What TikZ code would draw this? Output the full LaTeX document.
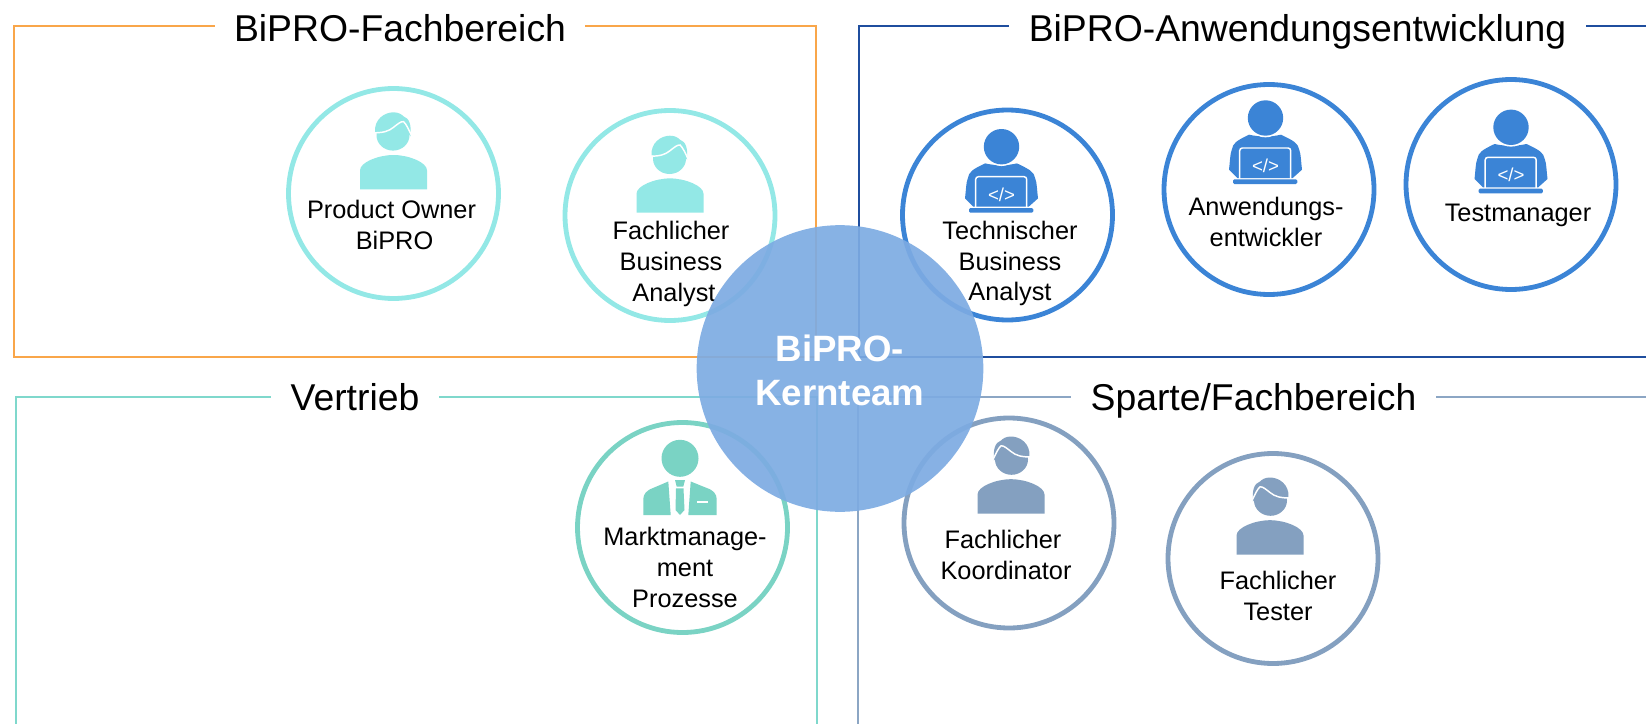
\documentclass[tikz,border=0pt]{standalone}
\usepackage{fontspec}
\usepackage{xcolor}
\setmainfont{Liberation Sans}
\definecolor{fachcol}{HTML}{93E8E6}
\definecolor{devcol}{HTML}{3B84D6}
\definecolor{salescol}{HTML}{7AD3C4}
\definecolor{spartecol}{HTML}{84A0C0}
\definecolor{fachline}{HTML}{F9A64A}
\definecolor{devline}{HTML}{1F4E9E}
\definecolor{salesline}{HTML}{7FD8CC}
\definecolor{sparteline}{HTML}{8CA6C4}
\definecolor{corecol}{HTML}{7DABE2}
\tikzset{
  title/.style={anchor=base, fill=white, inner xsep=14.5pt, inner ysep=0pt, font=\fontsize{28}{32}\selectfont},
  role/.style={circle, fill=white, line width=3.6pt, minimum size=157.5pt, inner sep=0pt},
  rolelabel/.style={align=center, font=\fontsize{19}{23}\selectfont},
  hairman/.pic={
    \fill (-33.5,0) -- (-33.5,-19) .. controls (-33.5,-27) and (-15,-34.3) .. (0,-34.3)
      .. controls (15,-34.3) and (33.5,-27) .. (33.5,-19) -- (33.5,0) -- cycle;
    \fill (-0.5,-54) ellipse (16.5 and 15.3);
    \fill (-18.5,-57) .. controls (-19.5,-70) and (-9,-77) .. (0,-77)
      .. controls (5,-77) and (8,-75) .. (10,-73)
      .. controls (16,-71) and (18,-64) .. (17,-53) -- (12,-60) -- cycle;
    \draw[white, line width=1.1pt] (-20,-56.5) .. controls (-10,-56.5) and (-5,-58) .. (0,-62)
      .. controls (4,-65) and (7,-68) .. (10,-67.7)
      .. controls (13,-65) and (15,-60) .. (18,-54);
  },
  devman/.pic={
    \fill (-27.7,-6) -- (-36,-14.3) .. controls (-35,-22) and (-35,-30) .. (-33.3,-34)
      .. controls (-32,-41) and (-29,-43) .. (-16,-49.3) .. controls (-6,-47) and (6,-47) .. (16,-49.3)
      .. controls (29,-43) and (33,-41) .. (34.3,-34) .. controls (36,-30) and (36,-22) .. (37,-14.3)
      -- (27.7,-6) -- cycle;
    \draw[white, line width=1.1pt] (0.5,-66) circle (18.6);
    \fill (0.5,-66) circle (17.7);
    \draw[white, line width=1.1pt, rounded corners=2pt] (-25.3,-4.5) -- (-25.3,-36) -- (25.7,-36) -- (25.7,-4.5);
    \fill[rounded corners=1pt] (-32,-4.6) rectangle (32.3,0);
    \node[text=white, font=\fontsize{14}{14}\selectfont, inner sep=0pt] (-code) at (0.5,-18) {</>};
  },
  suitman/.pic={
    \fill (0,-56.7) circle (18.5);
    \fill (-36.7,0) -- (-36.7,-16) .. controls (-36.7,-21) and (-33,-24) .. (-30,-25.7)
      -- (-11.7,-33.5) -- (-9.3,0) -- cycle;
    \fill (36.7,0) -- (36.7,-16) .. controls (36.7,-21) and (33,-24) .. (30,-25.7)
      -- (10.7,-33.5) -- (8.3,0) -- cycle;
    \fill (-5,-35) -- (5,-35) -- (3.3,-28.3) -- (-3.3,-28.3) -- cycle;
    \fill (-4,-26.7) -- (3.5,-26.7) -- (4.5,-5) -- (0,0) -- (-4.5,-5) -- cycle;
    \fill[white] (16.7,-14) rectangle (27.7,-12);
  }
}

\begin{document}
\begin{tikzpicture}[x=0.75pt, y=-0.75pt]
\useasboundingbox (0,0) rectangle (1646,724);

\draw[fachline, line width=0.9pt] (14,26) rectangle (816,357);
\draw[devline, line width=0.9pt] (1646,26) -- (859,26) -- (859,357) -- (1646,357);
\draw[salesline, line width=0.9pt] (16,724) -- (16,397) -- (817,397) -- (817,724);
\draw[sparteline, line width=0.9pt] (858,724) -- (858,397) -- (1646,397);

\node[title] (fach) at (400,42) {BiPRO-Fachbereich};
\node[title] (dev) at (1297.5,42) {BiPRO-Anwendungsentwicklung};
\node[title] (sales) at (355,410) {Vertrieb};
\node[title] (sparte) at (1253.5,410) {Sparte/Fachbereich};

\node[role, draw=fachcol] (po) at (393.5,193.5) {};
\node[role, draw=fachcol] (fba) at (670,215.5) {};
\node[role, draw=devcol] (tba) at (1007.5,215) {};
\node[role, draw=devcol] (ae) at (1269,189.5) {};
\node[role, draw=devcol] (tm) at (1511,184.5) {};
\node[role, draw=salescol] (mm) at (682.5,527.5) {};
\node[role, draw=spartecol] (fk) at (1009,523) {};
\node[role, draw=spartecol] (ft) at (1273,558.5) {};

\pic[fill=fachcol] at (393.5,189.3) {hairman};
\pic[fill=fachcol] at (670,212.7) {hairman};
\pic[fill=devcol] at (1001,212.7) {devman};
\pic[fill=devcol] at (1265,184) {devman};
\pic[fill=devcol] at (1510.5,193.3) {devman};
\pic[fill=salescol] at (680,515) {suitman};
\pic[fill=spartecol, xscale=-1] at (1011,513.5) {hairman};
\pic[fill=spartecol, xscale=-1] at (1270,554.5) {hairman};

\node[rolelabel] (polabel) at (391.5,225) {Product Owner\\\hspace*{4.5pt}BiPRO};
\node[rolelabel] (fbalabel) at (671,264) {Fachlicher\\Business\\\hspace*{4.5pt}Analyst};
\node[rolelabel] (tbalabel) at (1010,263.5) {Technischer\\Business\\Analyst};
\node[rolelabel] (aelabel) at (1266,222) {Anwendungs-\\entwickler};
\node[rolelabel] (tmlabel) at (1518,215) {Testmanager};
\node[rolelabel] (mmlabel) at (685,567.5) {Marktmanage-\\ment\\Prozesse};
\node[rolelabel] (fklabel) at (1006,555) {Fachlicher\hspace*{4.5pt}\\Koordinator};
\node[rolelabel] (ftlabel) at (1278,596) {Fachlicher\\Tester};

\node[circle, fill=corecol, fill opacity=0.92, minimum size=215pt, inner sep=0pt] (core) at (840,368.5) {};
\node[text=white, align=center, font=\bfseries\fontsize{27.5}{33}\selectfont] (corelabel) at (840,370) {BiPRO-\\Kernteam};
\end{tikzpicture}
\end{document}
